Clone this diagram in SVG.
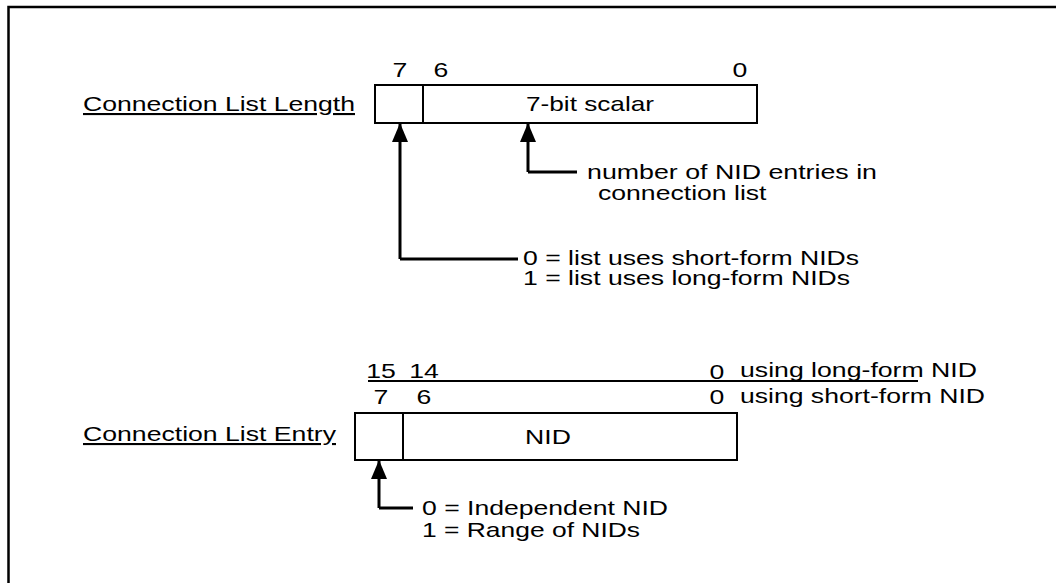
<svg xmlns="http://www.w3.org/2000/svg" width="1056" height="583" viewBox="0 0 1056 583">
<style>
text{font-family:"Liberation Sans",Arial,sans-serif;font-size:21px;fill:#000}
.u{text-decoration:underline}
.c{text-anchor:middle}
.box{fill:#fff;stroke:#000;stroke-width:2}
.div{stroke:#000;stroke-width:2}
.ln{fill:none;stroke:#000;stroke-width:3}
</style>
<defs>
<marker id="ah" markerWidth="19" markerHeight="16" refX="19" refY="8" orient="auto" markerUnits="userSpaceOnUse" viewBox="0 0 19 16"><path d="M0,0 L19,8 L0,16 Z" fill="#000"/></marker>
</defs>
<rect x="8.5" y="7" width="1100" height="620" fill="#fff" stroke="#000" stroke-width="2.5"/>
<g id="length">
<text x="83" y="111" class="u" textLength="272" lengthAdjust="spacingAndGlyphs">Connection List Length</text>
<text x="400" y="77" class="c" textLength="14.8" lengthAdjust="spacingAndGlyphs">7</text>
<text x="441" y="77" class="c" textLength="14.8" lengthAdjust="spacingAndGlyphs">6</text>
<text x="740" y="77" class="c" textLength="14.8" lengthAdjust="spacingAndGlyphs">0</text>
<rect class="box" x="375" y="85" width="382" height="38"/>
<line class="div" x1="423" y1="85" x2="423" y2="123"/>
<text x="590" y="111" class="c" textLength="128" lengthAdjust="spacingAndGlyphs">7-bit scalar</text>
</g>
<g id="entry">
<text x="83" y="441" class="u" textLength="253" lengthAdjust="spacingAndGlyphs">Connection List Entry</text>
<text x="381" y="378" class="c" textLength="29.6" lengthAdjust="spacingAndGlyphs">15</text>
<text x="424" y="378" class="c" textLength="29.6" lengthAdjust="spacingAndGlyphs">14</text>
<text x="717" y="379" class="c" textLength="14.8" lengthAdjust="spacingAndGlyphs">0</text>
<line x1="368" y1="381" x2="918" y2="381" stroke="#000" stroke-width="2"/>
<text x="740" y="377" textLength="237" lengthAdjust="spacingAndGlyphs">using long-form NID</text>
<text x="381" y="404" class="c" textLength="14.8" lengthAdjust="spacingAndGlyphs">7</text>
<text x="424" y="404" class="c" textLength="14.8" lengthAdjust="spacingAndGlyphs">6</text>
<text x="717" y="404" class="c" textLength="14.8" lengthAdjust="spacingAndGlyphs">0</text>
<text x="740" y="403" textLength="245" lengthAdjust="spacingAndGlyphs">using short-form NID</text>
<rect class="box" x="355" y="413" width="382" height="47"/>
<line class="div" x1="403" y1="413" x2="403" y2="460"/>
<text x="548" y="444" class="c" textLength="45.8" lengthAdjust="spacingAndGlyphs">NID</text>
</g>
<g id="note-count">
<text x="587" y="179" textLength="290" lengthAdjust="spacingAndGlyphs">number of NID entries in</text>
<text x="598" y="200" textLength="168.5" lengthAdjust="spacingAndGlyphs">connection list</text>
</g>
<g id="note-form">
<text x="523" y="265" textLength="336" lengthAdjust="spacingAndGlyphs">0 = list uses short-form NIDs</text>
<text x="523" y="285" textLength="327" lengthAdjust="spacingAndGlyphs">1 = list uses long-form NIDs</text>
</g>
<g id="note-range">
<text x="422" y="515" textLength="246" lengthAdjust="spacingAndGlyphs">0 = Independent NID</text>
<text x="422" y="537" textLength="218" lengthAdjust="spacingAndGlyphs">1 = Range of NIDs</text>
</g>
<g id="connectors">
<path class="ln" d="M400,259 L400,123" marker-end="url(#ah)"/>
<path class="ln" d="M518,259 L400,259"/>
<path class="ln" d="M528,172 L528,123" marker-end="url(#ah)"/>
<path class="ln" d="M577,172 L528,172"/>
<path class="ln" d="M379,508 L379,460" marker-end="url(#ah)"/>
<path class="ln" d="M413,508 L379,508"/>
</g>
</svg>
